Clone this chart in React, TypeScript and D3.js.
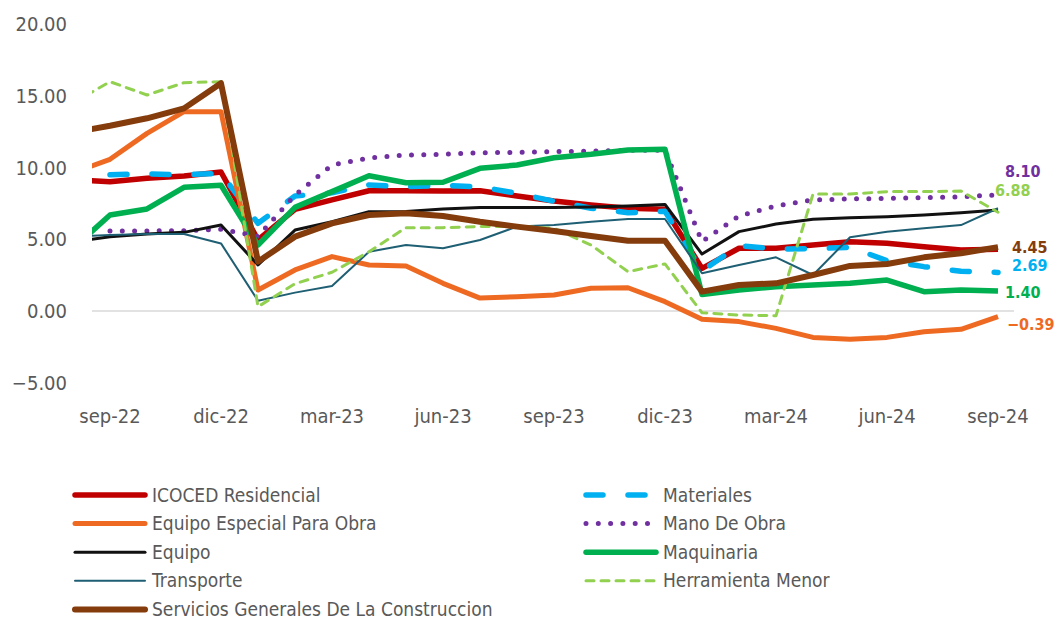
import React from 'react';
import * as d3 from 'd3';

// months shown on the axis (first month sits left of the plot and is clipped)
const months = [
    'ago-22', 'sep-22', 'oct-22', 'nov-22', 'dic-22', 'ene-23', 'feb-23', 'mar-23', 'abr-23',
    'may-23', 'jun-23', 'jul-23', 'ago-23', 'sep-23', 'oct-23', 'nov-23', 'dic-23', 'ene-24',
    'feb-24', 'mar-24', 'abr-24', 'may-24', 'jun-24', 'jul-24', 'ago-24', 'sep-24',
];
const tickMonths = ['sep-22', 'dic-22', 'mar-23', 'jun-23', 'sep-23', 'dic-23', 'mar-24', 'jun-24', 'sep-24'];
const yTicks = [-5, 0, 5, 10, 15, 20];

type V = number | null;

const icoced: V[] = [9.15, 9.01, 9.25, 9.41, 9.69, 4.95, 7.09, 7.74, 8.38, 8.38, 8.36, 8.38, 8.01, 7.67, 7.39, 7.16, 7.09, 2.97, 4.37, 4.37, 4.6, 4.83, 4.72, 4.48, 4.25, 4.3];
const materiales: V[] = [null, 9.5, 9.55, 9.5, 9.6, 6.11, 8.01, 8.24, 8.78, 8.66, 8.76, 8.65, 8.2, 7.65, 7.16, 6.85, 6.95, 2.8, 4.55, 4.32, 4.34, 4.44, 3.51, 3.09, 2.77, 2.69];
const equipoEspecial: V[] = [9.63, 10.57, 12.38, 13.89, 13.89, 1.46, 2.86, 3.79, 3.21, 3.14, 1.93, 0.9, 1.0, 1.11, 1.58, 1.62, 0.65, -0.58, -0.74, -1.21, -1.84, -1.97, -1.84, -1.44, -1.28, -0.39];
const manoObra: V[] = [null, 5.57, 5.58, 5.6, 5.7, 5.2, 8.08, 10.17, 10.66, 10.87, 10.92, 11.03, 11.05, 11.1, 11.15, 11.2, 11.2, 4.83, 6.62, 7.32, 7.74, 7.81, 7.85, 7.9, 7.95, 8.1];
const equipo: V[] = [4.82, 5.18, 5.37, 5.48, 5.99, 3.21, 5.64, 6.22, 6.92, 6.94, 7.11, 7.22, 7.22, 7.22, 7.25, 7.32, 7.43, 3.97, 5.53, 6.06, 6.39, 6.5, 6.57, 6.69, 6.85, 7.04];
const maquinaria: V[] = [4.37, 6.69, 7.11, 8.62, 8.76, 4.6, 7.22, 8.32, 9.43, 8.94, 8.97, 9.94, 10.17, 10.68, 10.92, 11.22, 11.27, 1.15, 1.46, 1.69, 1.81, 1.93, 2.16, 1.35, 1.46, 1.4];
const transporte: V[] = [5.2, 5.3, 5.37, 5.37, 4.71, 0.72, 1.28, 1.74, 4.13, 4.6, 4.37, 4.95, 5.88, 5.99, 6.22, 6.41, 6.41, 2.63, 3.21, 3.74, 2.51, 5.14, 5.53, 5.76, 5.99, 7.16];
const herramienta: V[] = [14.5, 15.98, 15.05, 15.91, 15.98, 0.3, 1.9, 2.7, 4.13, 5.81, 5.81, 5.88, 5.9, 5.76, 4.6, 2.74, 3.28, -0.12, -0.28, -0.33, 8.15, 8.15, 8.32, 8.32, 8.36, 6.88];
const servicios: V[] = [12.45, 12.91, 13.43, 14.12, 15.87, 3.44, 5.18, 6.11, 6.69, 6.81, 6.62, 6.22, 5.88, 5.57, 5.23, 4.9, 4.9, 1.35, 1.81, 1.93, 2.51, 3.14, 3.28, 3.74, 4.02, 4.45];

interface Series {
    name: string;
    values: V[];
    color: string;
    width: number;
    dash?: string;
    cap?: 'round' | 'butt';
    label?: { dx: number; dy: number };
}

// draw order = Excel series order (later on top)
const series: Series[] = [
    { name: 'ICOCED Residencial', values: icoced, color: '#C00000', width: 5.5 },
    { name: 'Materiales', values: materiales, color: '#00B0F0', width: 5.5, dash: '17 25', cap: 'round', label: { dx: 14, dy: -7 } },
    { name: 'Equipo Especial Para Obra', values: equipoEspecial, color: '#EE6A22', width: 5, label: { dx: 9, dy: 8 } },
    { name: 'Mano De Obra', values: manoObra, color: '#7030A0', width: 5, dash: '0 12.3', cap: 'round', label: { dx: 7, dy: -23 } },
    { name: 'Equipo', values: equipo, color: '#111111', width: 3 },
    { name: 'Maquinaria', values: maquinaria, color: '#00B050', width: 5.5, label: { dx: 7, dy: 1 } },
    { name: 'Transporte', values: transporte, color: '#1F5F74', width: 2 },
    { name: 'Herramienta Menor', values: herramienta, color: '#92D050', width: 3, dash: '8 7', cap: 'round', label: { dx: -3, dy: -22 } },
    { name: 'Servicios Generales De La Construccion', values: servicios, color: '#843C0C', width: 6, label: { dx: 14, dy: 0 } },
];

// legend layout: left column then right column
const legendLeft = ['ICOCED Residencial', 'Equipo Especial Para Obra', 'Equipo', 'Transporte', 'Servicios Generales De La Construccion'];
const legendRight = ['Materiales', 'Mano De Obra', 'Maquinaria', 'Herramienta Menor'];

const font = '"DejaVu Sans Condensed", "DejaVu Sans", sans-serif';

const App: React.FC = () => {
    const width = 1055;
    const height = 621;
    const plotLeft = 92;
    const plotRight = 1014;

    const x = d3.scalePoint<string>().domain(months).range([73, 998]);
    const y = d3.scaleLinear().domain([-5, 20]).range([382.75, 24]);

    const line = d3.line<V>()
        .defined(d => d != null)
        .x((_, i) => x(months[i]) as number)
        .y(d => y(d as number));

    const byName = (n: string) => series.find(s => s.name === n)!;

    const legendItem = (s: Series, lx: number, ly: number) => (
        <g key={s.name}>
            <line x1={lx} x2={lx + 70} y1={ly} y2={ly}
                stroke={s.color} strokeWidth={s.width}
                strokeDasharray={s.dash} strokeLinecap={s.cap ?? 'round'} />
            <text x={lx + 77} y={ly} dy="0.35em" fontSize={19} fill="#595959">{s.name}</text>
        </g>
    );

    return (
        <svg width={width} height={height} style={{ position: 'absolute', left: 0, top: 0, fontFamily: font, fontStretch: 'condensed' }}>
            <defs>
                <clipPath id="plot">
                    <rect x={plotLeft} y={0} width={plotRight - plotLeft} height={400} />
                </clipPath>
            </defs>

            {/* y axis labels */}
            {yTicks.map(t => (
                <text key={t} x={67} y={y(t)} dy="0.35em" textAnchor="end" fontSize={20} fill="#595959">
                    {d3.format('.2f')(t)}
                </text>
            ))}

            {/* zero line */}
            <line x1={plotLeft} x2={plotRight} y1={y(0)} y2={y(0)} stroke="#D9D9D9" strokeWidth={1.5} />

            {/* x axis labels */}
            {tickMonths.map(m => (
                <text key={m} x={x(m)} y={423} textAnchor="middle" fontSize={20} fill="#595959">{m}</text>
            ))}

            <g clipPath="url(#plot)">
                {series.map(s => (
                    <path key={s.name} d={line(s.values) || undefined} fill="none"
                        stroke={s.color} strokeWidth={s.width}
                        strokeDasharray={s.dash} strokeLinecap={s.cap ?? 'butt'} strokeLinejoin="round" />
                ))}
            </g>

            {/* end value labels */}
            {series.filter(s => s.label).map(s => {
                const last = s.values[s.values.length - 1] as number;
                return (
                    <text key={s.name} x={(x(months[months.length - 1]) as number) + s.label!.dx}
                        y={y(last) + s.label!.dy} dy="0.35em" fontSize={16} fontWeight="bold" fill={s.color}>
                        {d3.format('.2f')(last)}
                    </text>
                );
            })}

            {/* legend */}
            {legendLeft.map((n, i) => legendItem(byName(n), 75, 495 + i * 28.6))}
            {legendRight.map((n, i) => legendItem(byName(n), 586, 495 + i * 28.6))}
        </svg>
    );
};

export default App;
